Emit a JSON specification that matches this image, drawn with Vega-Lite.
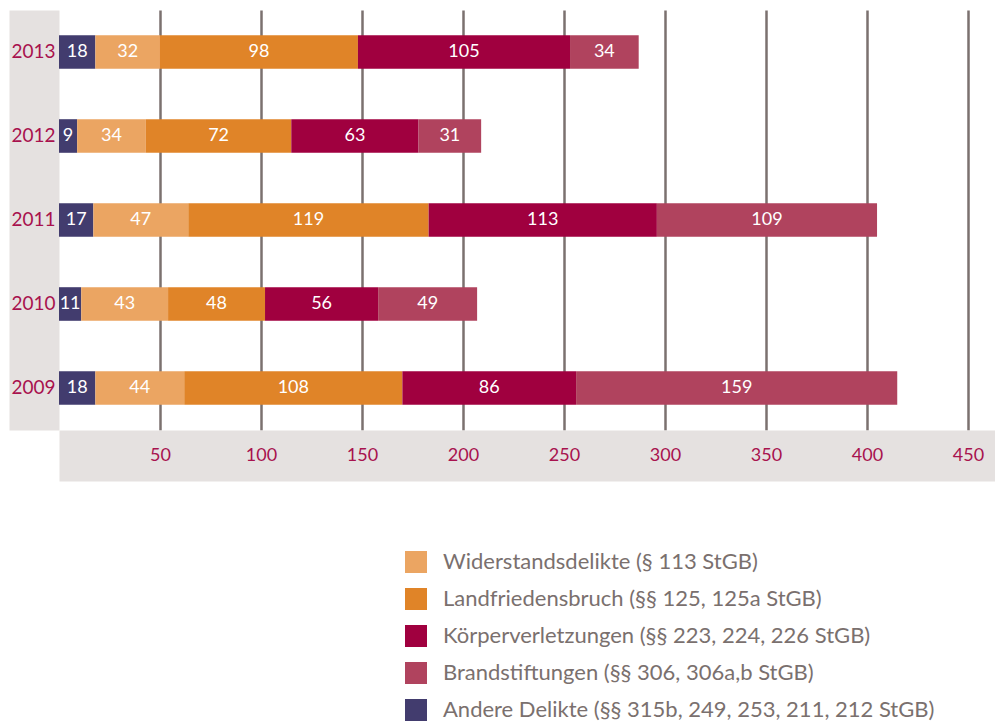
{
  "$schema": "https://vega.github.io/schema/vega-lite/v6.json",
  "autosize": {"type": "none"},
  "padding": {"left": 59, "top": 10, "right": 0, "bottom": 293},
  "width": 936,
  "height": 420,
  "background": "white",
  "config": {
    "view": {"stroke": null},
    "font": "Lato"
  },
  "data": {
    "values": [
      {"year": "2013", "cat": "Andere Delikte (§§ 315b, 249, 253, 211, 212 StGB)", "k": 1, "v": 18},
      {"year": "2013", "cat": "Widerstandsdelikte (§ 113 StGB)", "k": 2, "v": 32},
      {"year": "2013", "cat": "Landfriedensbruch (§§ 125, 125a StGB)", "k": 3, "v": 98},
      {"year": "2013", "cat": "Körperverletzungen (§§ 223, 224, 226 StGB)", "k": 4, "v": 105},
      {"year": "2013", "cat": "Brandstiftungen (§§ 306, 306a,b StGB)", "k": 5, "v": 34},
      {"year": "2012", "cat": "Andere Delikte (§§ 315b, 249, 253, 211, 212 StGB)", "k": 1, "v": 9},
      {"year": "2012", "cat": "Widerstandsdelikte (§ 113 StGB)", "k": 2, "v": 34},
      {"year": "2012", "cat": "Landfriedensbruch (§§ 125, 125a StGB)", "k": 3, "v": 72},
      {"year": "2012", "cat": "Körperverletzungen (§§ 223, 224, 226 StGB)", "k": 4, "v": 63},
      {"year": "2012", "cat": "Brandstiftungen (§§ 306, 306a,b StGB)", "k": 5, "v": 31},
      {"year": "2011", "cat": "Andere Delikte (§§ 315b, 249, 253, 211, 212 StGB)", "k": 1, "v": 17},
      {"year": "2011", "cat": "Widerstandsdelikte (§ 113 StGB)", "k": 2, "v": 47},
      {"year": "2011", "cat": "Landfriedensbruch (§§ 125, 125a StGB)", "k": 3, "v": 119},
      {"year": "2011", "cat": "Körperverletzungen (§§ 223, 224, 226 StGB)", "k": 4, "v": 113},
      {"year": "2011", "cat": "Brandstiftungen (§§ 306, 306a,b StGB)", "k": 5, "v": 109},
      {"year": "2010", "cat": "Andere Delikte (§§ 315b, 249, 253, 211, 212 StGB)", "k": 1, "v": 11},
      {"year": "2010", "cat": "Widerstandsdelikte (§ 113 StGB)", "k": 2, "v": 43},
      {"year": "2010", "cat": "Landfriedensbruch (§§ 125, 125a StGB)", "k": 3, "v": 48},
      {"year": "2010", "cat": "Körperverletzungen (§§ 223, 224, 226 StGB)", "k": 4, "v": 56},
      {"year": "2010", "cat": "Brandstiftungen (§§ 306, 306a,b StGB)", "k": 5, "v": 49},
      {"year": "2009", "cat": "Andere Delikte (§§ 315b, 249, 253, 211, 212 StGB)", "k": 1, "v": 18},
      {"year": "2009", "cat": "Widerstandsdelikte (§ 113 StGB)", "k": 2, "v": 44},
      {"year": "2009", "cat": "Landfriedensbruch (§§ 125, 125a StGB)", "k": 3, "v": 108},
      {"year": "2009", "cat": "Körperverletzungen (§§ 223, 224, 226 StGB)", "k": 4, "v": 86},
      {"year": "2009", "cat": "Brandstiftungen (§§ 306, 306a,b StGB)", "k": 5, "v": 159}
    ]
  },
  "transform": [
    {"stack": "v", "groupby": ["year"], "sort": [{"field": "k", "order": "ascending"}], "as": ["x0", "x1"]},
    {"calculate": "(datum.x0 + datum.x1) / 2", "as": "mid"}
  ],
  "resolve": {"axis": {"x": "independent", "y": "independent"}},
  "layer": [
    {
      "mark": {"type": "bar"},
      "encoding": {
        "y": {
          "field": "year",
          "type": "ordinal",
          "sort": ["2013", "2012", "2011", "2010", "2009"],
          "scale": {"paddingInner": 0.6, "paddingOuter": 0.3},
          "axis": {
            "orient": "left",
            "title": null,
            "domainColor": "#e5e1e0",
            "domainWidth": 50,
            "offset": 25,
            "ticks": false,
            "labels": false,
            "grid": false,
            "zindex": 0
          }
        },
        "x": {
          "field": "x0",
          "type": "quantitative",
          "scale": {"domain": [0, 463.4], "nice": false, "zero": true},
          "axis": {
            "orient": "bottom",
            "title": null,
            "grid": false,
            "domainColor": "#e5e1e0",
            "domainWidth": 51,
            "offset": 25.5,
            "ticks": false,
            "labels": false,
            "zindex": 0
          }
        },
        "x2": {"field": "x1"},
        "color": {
          "field": "cat",
          "type": "nominal",
          "scale": {
            "domain": [
              "Widerstandsdelikte (§ 113 StGB)",
              "Landfriedensbruch (§§ 125, 125a StGB)",
              "Körperverletzungen (§§ 223, 224, 226 StGB)",
              "Brandstiftungen (§§ 306, 306a,b StGB)",
              "Andere Delikte (§§ 315b, 249, 253, 211, 212 StGB)"
            ],
            "range": ["#eba562", "#e08428", "#a0003f", "#b0435e", "#423c6e"]
          },
          "legend": {
            "title": null,
            "orient": "none",
            "legendX": 346,
            "legendY": 541,
            "symbolType": "square",
            "symbolSize": 484,
            "symbolStrokeWidth": 0,
            "symbolOpacity": 1,
            "labelFontSize": 22,
            "labelColor": "#7a706e",
            "labelFont": "Lato",
            "labelOffset": 16,
            "rowPadding": 15,
            "labelLimit": 600
          }
        }
      }
    },
    {
      "mark": {"type": "text", "color": "white", "fontSize": 18, "font": "Lato"},
      "encoding": {
        "y": {
          "field": "year",
          "type": "ordinal",
          "sort": ["2013", "2012", "2011", "2010", "2009"],
          "axis": {
            "orient": "left",
            "title": null,
            "domain": false,
            "ticks": false,
            "grid": false,
            "labelPadding": 4,
            "labelFontSize": 19,
            "labelColor": "#a8124e",
            "labelFont": "Lato",
            "zindex": 1
          }
        },
        "x": {
          "field": "mid",
          "type": "quantitative",
          "axis": {
            "orient": "bottom",
            "title": null,
            "values": [50, 100, 150, 200, 250, 300, 350, 400, 450],
            "grid": true,
            "gridColor": "#7b716f",
            "gridWidth": 2.5,
            "domain": false,
            "offset": 25.5,
            "ticks": false,
            "labelPadding": 0,
            "labelBaseline": "middle",
            "labelFontSize": 18,
            "labelColor": "#a8124e",
            "labelFont": "Lato",
            "zindex": 0
          }
        },
        "text": {"field": "v", "type": "quantitative"}
      }
    }
  ]
}
